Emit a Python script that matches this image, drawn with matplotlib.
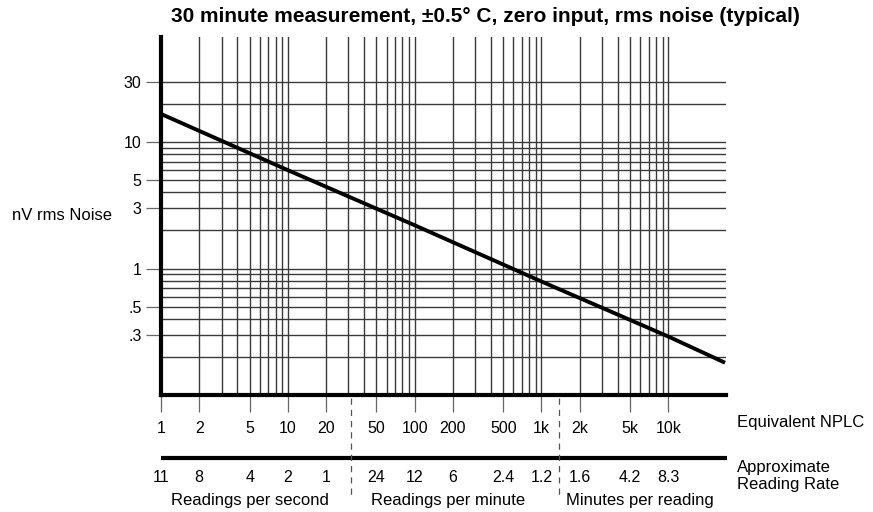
import matplotlib
matplotlib.use("Agg")
import matplotlib.pyplot as plt
from matplotlib.transforms import blended_transform_factory
import numpy as np

plt.rcParams['font.family'] = ['Liberation Sans', 'DejaVu Sans']

# Data
nplc = [1, 10, 100, 1000, 10000, 28000]
noise = [16.7, 6.0, 2.2, 0.79, 0.29, 0.18]

x_tick_vals = [1, 2, 5, 10, 20, 50, 100, 200, 500, 1000, 2000, 5000, 10000]
x_tick_labels = ["1", "2", "5", "10", "20", "50", "100", "200", "500", "1k", "2k", "5k", "10k"]
rate_labels = ["11", "8", "4", "2", "1", "24", "12", "6", "2.4", "1.2", "1.6", "4.2", "8.3"]
y_tick_vals = [30, 10, 5, 3, 1, 0.5, 0.3]
y_tick_labels = ["30", "10", "5", "3", "1", ".5", ".3"]
group_bounds = [31.6, 1380]
group_labels = ["Readings per second", "Readings per minute", "Minutes per reading"]
group_centers = [5.0, 184, 6000]

W, H = 873, 512
fig = plt.figure(figsize=(W / 100, H / 100), dpi=100)
left, right, bottom, top = 161, 726, 395, 37
ax = fig.add_axes([left / W, 1 - bottom / H, (right - left) / W, (bottom - top) / H])
ax.set_xscale('log')
ax.set_yscale('log')
ax.set_xlim(1, 28500)
ax.set_ylim(0.1, 67.8)

# grid lines
hgrid = [30, 20] + [m * 10 ** e for e in (0, -1) for m in range(10, 1, -1)]
hgrid = sorted(set([round(v, 6) for v in hgrid]))
for v in hgrid:
    ax.axhline(v, color='#3a3a3a', lw=1.0, zorder=1)
vgrid = [m * 10 ** e for e in range(0, 4) for m in range(2, 10)] + [10, 100, 1000, 10000]
for v in sorted(set(vgrid)):
    ax.axvline(v, color='#3a3a3a', lw=1.0, zorder=1)

ax.plot(nplc, noise, color='black', lw=2.8, zorder=3, solid_capstyle='butt')

for s in ['top', 'right']:
    ax.spines[s].set_visible(False)
ax.spines['left'].set_linewidth(3)
ax.spines['bottom'].set_linewidth(3)

ax.set_yticks(y_tick_vals)
ax.set_yticklabels(y_tick_labels)
ax.yaxis.set_minor_locator(matplotlib.ticker.NullLocator())
ax.set_xticks(x_tick_vals)
ax.set_xticklabels(x_tick_labels)
ax.xaxis.set_minor_locator(matplotlib.ticker.NullLocator())
ax.tick_params(axis='y', length=11, width=0.9, color='#666666', labelsize=11.5, pad=3)
ax.tick_params(axis='x', length=12, width=0.9, color='#666666', labelsize=11.5, pad=7)

fig.text(12 / W, 1 - 215 / H, "nV rms Noise", fontsize=12, ha='left', va='center')

fig.text(485 / W, 1 - 16 / H,
         "30 minute measurement, \u00b10.5\u00b0 C, zero input, rms noise (typical)",
         fontsize=15, fontweight='bold', ha='center', va='center')

tr = blended_transform_factory(ax.transData, fig.transFigure)
# second scale line
ax.plot([1, 29000], [1 - 458 / H, 1 - 458 / H], transform=tr, color='black', lw=3, clip_on=False,
        solid_capstyle='butt')
for xv, lab in zip(x_tick_vals, rate_labels):
    ax.text(xv, 1 - 477 / H, lab, transform=tr, ha='center', va='center', fontsize=11.5)

for xb in group_bounds:
    ax.plot([xb, xb], [1 - 398 / H, 1 - 498 / H], transform=tr, color='#555555', lw=0.9,
            ls=(0, (5, 4)), clip_on=False)

for xc, lab in zip(group_centers, group_labels):
    ax.text(xc, 1 - 500 / H, lab, transform=tr, ha='center', va='center', fontsize=12)

fig.text(737 / W, 1 - 423 / H, "Equivalent NPLC", fontsize=12, ha='left', va='center')
fig.text(737 / W, 1 - 476 / H, "Approximate\nReading Rate", fontsize=12, ha='left', va='center',
         linespacing=1.15)

fig.savefig("out.png", dpi=100)
